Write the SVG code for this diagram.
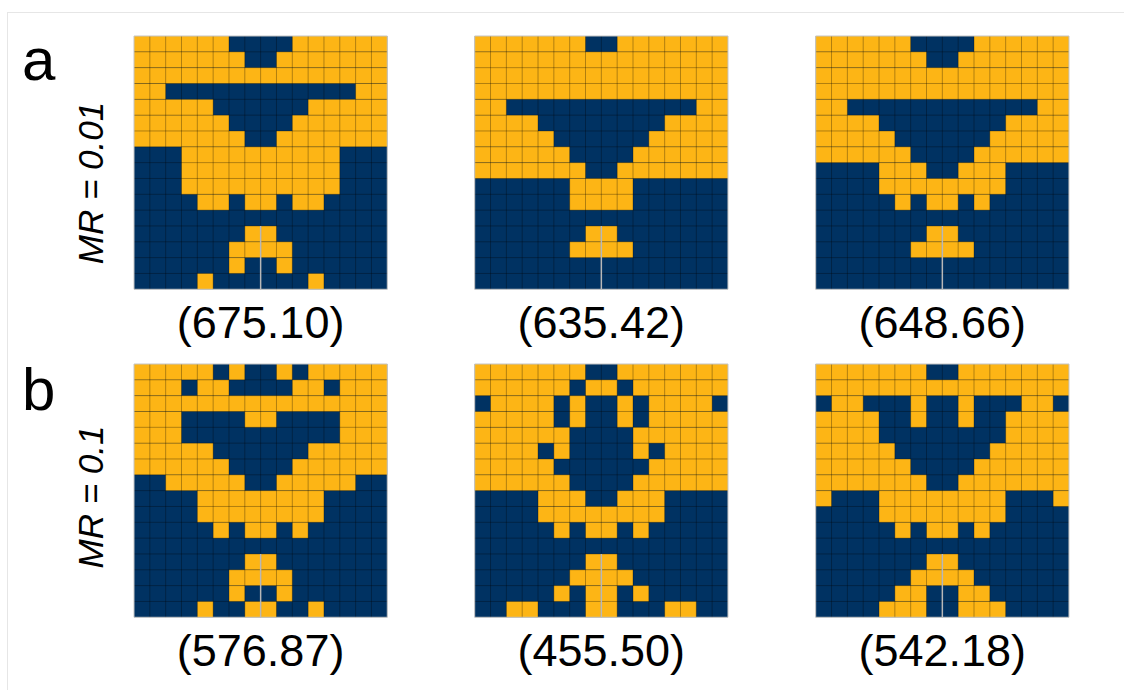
<svg xmlns="http://www.w3.org/2000/svg" xmlns:xlink="http://www.w3.org/1999/xlink" width="1124" height="690" viewBox="0 0 1124 690">
<style>
.bg{fill:#003262}
.y{fill:#FDB515}
.gl{fill:none;stroke:#000;stroke-opacity:0.3;stroke-width:1}
.bd{fill:none;stroke:#c4c4c4;stroke-width:1}
.cl{stroke:#b8b8b8;stroke-width:1.5}
.num{font-family:"Liberation Sans",Arial,sans-serif;font-size:45px;fill:#000;text-anchor:middle}
.pl{font-family:"Liberation Sans",Arial,sans-serif;font-size:60px;fill:#000}
.mr{font-family:"Liberation Sans",Arial,sans-serif;font-size:35px;font-style:italic;fill:#000;text-anchor:middle}
</style>
<defs>
<path id="lines" class="gl" vector-effect="non-scaling-stroke" d="M1 0V16M2 0V16M3 0V16M4 0V16M5 0V16M6 0V16M7 0V16M8 0V16M9 0V16M10 0V16M11 0V16M12 0V16M13 0V16M14 0V16M15 0V16M0 1H16M0 2H16M0 3H16M0 4H16M0 5H16M0 6H16M0 7H16M0 8H16M0 9H16M0 10H16M0 11H16M0 12H16M0 13H16M0 14H16M0 15H16"/>
</defs>
<rect width="1124" height="690" fill="#fff"/>
<rect x="7.5" y="12.5" width="1200" height="800" fill="none" stroke="#e6e6e6" stroke-width="1"/>

<g id="labels">
<text class="pl" x="22" y="80">a</text>
<text class="pl" x="22" y="410">b</text>
<text class="mr" transform="translate(103,183) rotate(-90)">MR = 0.01</text>
<text class="mr" transform="translate(103,497) rotate(-90)">MR = 0.1</text>
</g>

<g id="grid-a1" transform="translate(134,36) scale(15.83)">
<rect class="bg" width="16" height="16"/>
<g class="y">
<rect x="0" y="0" width="6" height="1"/><rect x="10" y="0" width="6" height="1"/>
<rect x="0" y="1" width="7" height="1"/><rect x="9" y="1" width="7" height="1"/>
<rect x="0" y="2" width="16" height="1"/>
<rect x="0" y="3" width="2" height="1"/><rect x="14" y="3" width="2" height="1"/>
<rect x="0" y="4" width="5" height="1"/><rect x="11" y="4" width="5" height="1"/>
<rect x="0" y="5" width="6" height="1"/><rect x="10" y="5" width="6" height="1"/>
<rect x="0" y="6" width="7" height="1"/><rect x="9" y="6" width="7" height="1"/>
<rect x="3" y="7" width="10" height="3"/>
<rect x="4" y="10" width="2" height="1"/><rect x="7" y="10" width="2" height="1"/><rect x="10" y="10" width="2" height="1"/>
<rect x="7" y="12" width="2" height="1"/>
<rect x="6" y="13" width="4" height="1"/>
<rect x="6" y="14" width="1" height="1"/><rect x="9" y="14" width="1" height="1"/>
<rect x="4" y="15" width="1" height="1"/><rect x="11" y="15" width="1" height="1"/>
</g>
<use xlink:href="#lines"/>
<line class="cl" x1="8" y1="12" x2="8" y2="16" vector-effect="non-scaling-stroke"/>
<rect class="bd" width="16" height="16" vector-effect="non-scaling-stroke"/>
</g>

<g id="grid-a2" transform="translate(474.7,36) scale(15.83)">
<rect class="bg" width="16" height="16"/>
<g class="y">
<rect x="0" y="0" width="7" height="1"/><rect x="9" y="0" width="7" height="1"/>
<rect x="0" y="1" width="16" height="3"/>
<rect x="0" y="4" width="2" height="1"/><rect x="14" y="4" width="2" height="1"/>
<rect x="0" y="5" width="4" height="1"/><rect x="12" y="5" width="4" height="1"/>
<rect x="0" y="6" width="5" height="1"/><rect x="11" y="6" width="5" height="1"/>
<rect x="0" y="7" width="6" height="1"/><rect x="10" y="7" width="6" height="1"/>
<rect x="0" y="8" width="7" height="1"/><rect x="9" y="8" width="7" height="1"/>
<rect x="6" y="9" width="4" height="2"/>
<rect x="7" y="12" width="2" height="1"/>
<rect x="6" y="13" width="4" height="1"/>
</g>
<use xlink:href="#lines"/>
<line class="cl" x1="8" y1="12" x2="8" y2="16" vector-effect="non-scaling-stroke"/>
<rect class="bd" width="16" height="16" vector-effect="non-scaling-stroke"/>
</g>

<g id="grid-a3" transform="translate(815.7,36) scale(15.83)">
<rect class="bg" width="16" height="16"/>
<g class="y">
<rect x="0" y="0" width="6" height="1"/><rect x="10" y="0" width="6" height="1"/>
<rect x="0" y="1" width="7" height="1"/><rect x="9" y="1" width="7" height="1"/>
<rect x="0" y="2" width="16" height="2"/>
<rect x="0" y="4" width="2" height="1"/><rect x="14" y="4" width="2" height="1"/>
<rect x="0" y="5" width="4" height="1"/><rect x="12" y="5" width="4" height="1"/>
<rect x="0" y="6" width="5" height="1"/><rect x="11" y="6" width="5" height="1"/>
<rect x="0" y="7" width="6" height="1"/><rect x="10" y="7" width="6" height="1"/>
<rect x="4" y="8" width="3" height="1"/><rect x="9" y="8" width="3" height="1"/>
<rect x="4" y="9" width="8" height="1"/>
<rect x="5" y="10" width="1" height="1"/><rect x="7" y="10" width="2" height="1"/><rect x="10" y="10" width="1" height="1"/>
<rect x="7" y="12" width="2" height="1"/>
<rect x="6" y="13" width="4" height="1"/>
</g>
<use xlink:href="#lines"/>
<line class="cl" x1="8" y1="12" x2="8" y2="16" vector-effect="non-scaling-stroke"/>
<rect class="bd" width="16" height="16" vector-effect="non-scaling-stroke"/>
</g>

<g id="grid-b1" transform="translate(134,364) scale(15.83)">
<rect class="bg" width="16" height="16"/>
<g class="y">
<rect x="0" y="0" width="5" height="1"/><rect x="6" y="0" width="1" height="1"/><rect x="9" y="0" width="1" height="1"/><rect x="11" y="0" width="5" height="1"/>
<rect x="0" y="1" width="3" height="1"/><rect x="4" y="1" width="2" height="1"/><rect x="10" y="1" width="2" height="1"/><rect x="13" y="1" width="3" height="1"/>
<rect x="0" y="2" width="16" height="1"/>
<rect x="0" y="3" width="3" height="2"/><rect x="7" y="3" width="2" height="1"/><rect x="13" y="3" width="3" height="2"/>
<rect x="0" y="5" width="5" height="1"/><rect x="11" y="5" width="5" height="1"/>
<rect x="0" y="6" width="6" height="1"/><rect x="10" y="6" width="6" height="1"/>
<rect x="2" y="7" width="5" height="1"/><rect x="9" y="7" width="5" height="1"/>
<rect x="4" y="8" width="8" height="2"/>
<rect x="5" y="10" width="1" height="1"/><rect x="7" y="10" width="2" height="1"/><rect x="10" y="10" width="1" height="1"/>
<rect x="7" y="12" width="2" height="1"/>
<rect x="6" y="13" width="4" height="1"/>
<rect x="6" y="14" width="1" height="1"/><rect x="9" y="14" width="1" height="1"/>
<rect x="4" y="15" width="1" height="1"/><rect x="7" y="15" width="2" height="1"/><rect x="11" y="15" width="1" height="1"/>
</g>
<use xlink:href="#lines"/>
<line class="cl" x1="8" y1="12" x2="8" y2="16" vector-effect="non-scaling-stroke"/>
<rect class="bd" width="16" height="16" vector-effect="non-scaling-stroke"/>
</g>

<g id="grid-b2" transform="translate(474.7,364) scale(15.83)">
<rect class="bg" width="16" height="16"/>
<g class="y">
<rect x="0" y="0" width="7" height="1"/><rect x="9" y="0" width="7" height="1"/>
<rect x="0" y="1" width="6" height="1"/><rect x="7" y="1" width="2" height="1"/><rect x="10" y="1" width="6" height="1"/>
<rect x="1" y="2" width="4" height="1"/><rect x="6" y="2" width="1" height="2"/><rect x="9" y="2" width="1" height="2"/><rect x="11" y="2" width="4" height="1"/>
<rect x="0" y="3" width="5" height="1"/><rect x="11" y="3" width="5" height="1"/>
<rect x="0" y="4" width="6" height="1"/><rect x="10" y="4" width="6" height="1"/>
<rect x="0" y="5" width="4" height="1"/><rect x="5" y="5" width="1" height="1"/><rect x="10" y="5" width="1" height="1"/><rect x="12" y="5" width="4" height="1"/>
<rect x="0" y="6" width="5" height="1"/><rect x="11" y="6" width="5" height="1"/>
<rect x="0" y="7" width="6" height="1"/><rect x="10" y="7" width="6" height="1"/>
<rect x="4" y="8" width="3" height="1"/><rect x="9" y="8" width="3" height="1"/>
<rect x="4" y="9" width="8" height="1"/>
<rect x="5" y="10" width="1" height="1"/><rect x="7" y="10" width="2" height="1"/><rect x="10" y="10" width="1" height="1"/>
<rect x="7" y="12" width="2" height="1"/>
<rect x="6" y="13" width="4" height="1"/>
<rect x="5" y="14" width="1" height="1"/><rect x="7" y="14" width="2" height="2"/><rect x="10" y="14" width="1" height="1"/>
<rect x="2" y="15" width="2" height="1"/><rect x="12" y="15" width="2" height="1"/>
</g>
<use xlink:href="#lines"/>
<line class="cl" x1="8" y1="12" x2="8" y2="16" vector-effect="non-scaling-stroke"/>
<rect class="bd" width="16" height="16" vector-effect="non-scaling-stroke"/>
</g>

<g id="grid-b3" transform="translate(815.7,364) scale(15.83)">
<rect class="bg" width="16" height="16"/>
<g class="y">
<rect x="0" y="0" width="7" height="1"/><rect x="9" y="0" width="7" height="1"/>
<rect x="0" y="1" width="16" height="1"/>
<rect x="1" y="2" width="2" height="1"/><rect x="6" y="2" width="1" height="2"/><rect x="9" y="2" width="1" height="2"/><rect x="13" y="2" width="2" height="1"/>
<rect x="0" y="3" width="4" height="2"/><rect x="12" y="3" width="4" height="2"/>
<rect x="0" y="5" width="5" height="1"/><rect x="11" y="5" width="5" height="1"/>
<rect x="0" y="6" width="6" height="1"/><rect x="10" y="6" width="6" height="1"/>
<rect x="0" y="7" width="7" height="1"/><rect x="9" y="7" width="7" height="1"/>
<rect x="0" y="8" width="1" height="1"/><rect x="4" y="8" width="8" height="2"/><rect x="15" y="8" width="1" height="1"/>
<rect x="5" y="10" width="1" height="1"/><rect x="7" y="10" width="2" height="1"/><rect x="10" y="10" width="1" height="1"/>
<rect x="7" y="12" width="2" height="1"/>
<rect x="6" y="13" width="4" height="1"/>
<rect x="5" y="14" width="2" height="1"/><rect x="9" y="14" width="2" height="1"/>
<rect x="4" y="15" width="3" height="1"/><rect x="9" y="15" width="3" height="1"/>
</g>
<use xlink:href="#lines"/>
<line class="cl" x1="8" y1="12" x2="8" y2="16" vector-effect="non-scaling-stroke"/>
<rect class="bd" width="16" height="16" vector-effect="non-scaling-stroke"/>
</g>

<g id="values">
<text class="num" x="260.6" y="338">(675.10)</text>
<text class="num" x="601.3" y="338">(635.42)</text>
<text class="num" x="942.3" y="338">(648.66)</text>
<text class="num" x="260.6" y="666">(576.87)</text>
<text class="num" x="601.3" y="666">(455.50)</text>
<text class="num" x="942.3" y="666">(542.18)</text>
</g>
</svg>
